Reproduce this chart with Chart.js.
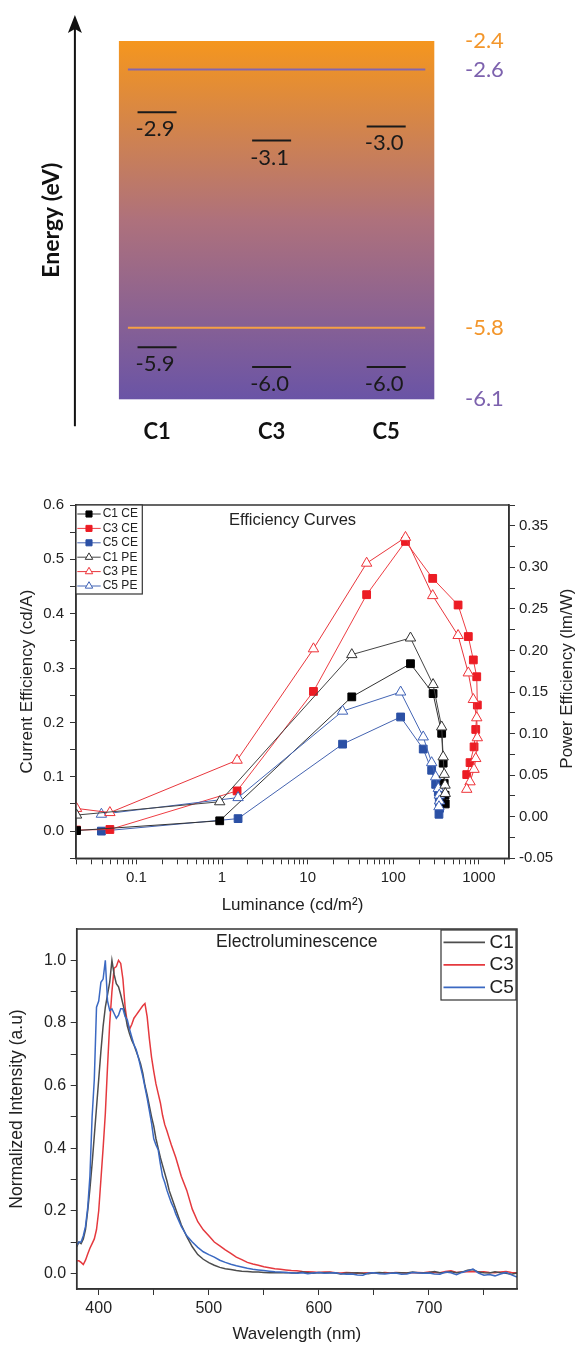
<!DOCTYPE html>
<html lang="es">
<head>
<meta charset="utf-8">
<title>Niveles de energía, eficiencia y electroluminiscencia</title>
<script src="https://cdn.jsdelivr.net/npm/chart.js@4.4.1/dist/chart.umd.min.js"></script>
<style>
  html, body { margin: 0; padding: 0; background: #fff; }
  .panel { position: absolute; left: 0; width: 577px; }
</style>
</head>
<body>
<div class="panel" style="top:0;height:450px"><canvas id="energyChart"></canvas></div>
<div class="panel" style="top:480px;height:440px"><canvas id="effChart"></canvas></div>
<div class="panel" style="top:910px;height:435px"><canvas id="elChart"></canvas></div>
<script>
// Niveles de energía (eV)
const compounds = ['C1', 'C3', 'C5'];
const lumoLevels = [-2.9, -3.1, -3.0];
const homoLevels = [-5.9, -6.0, -6.0];
const refLevels = [-2.4, -2.6, -5.8, -6.1];
const lineLevels = [-2.6, -5.8];

// Curvas de eficiencia: luminancia (cd/m2), CE (cd/A), PE (lm/W)
const c1Lum = [0.02, 0.94, 32.8, 159, 292, 368, 383, 394, 403, 405];
const c1CE  = [0.001, 0.019, 0.247, 0.308, 0.253, 0.180, 0.125, 0.088, 0.066, 0.050];
const c1PE  = [0.002, 0.018, 0.195, 0.215, 0.159, 0.108, 0.072, 0.051, 0.038, 0.028];

const c3Lum = [0.02, 0.049, 1.5, 11.7, 48.9, 139, 289, 572, 753, 862, 945, 960, 920, 879, 789, 722];
const c3CE  = [0.002, 0.003, 0.074, 0.257, 0.435, 0.533, 0.465, 0.416, 0.358, 0.315, 0.284, 0.232, 0.187, 0.155, 0.126, 0.104];
const c3PE  = [0.010, 0.005, 0.068, 0.202, 0.305, 0.336, 0.266, 0.218, 0.173, 0.141, 0.119, 0.095, 0.070, 0.057, 0.042, 0.033];

const c5Lum = [0.039, 1.54, 25.6, 122, 224, 281, 313, 336, 345, 347, 342];
const c5CE  = [0.000, 0.023, 0.160, 0.210, 0.151, 0.112, 0.086, 0.072, 0.057, 0.042, 0.031];
const c5PE  = [0.003, 0.023, 0.127, 0.150, 0.096, 0.065, 0.048, 0.034, 0.026, 0.019, 0.012];

const effXTicks = [0.02, 0.03, 0.04, 0.05, 0.06, 0.07, 0.08, 0.09, 0.1, 0.2, 0.3, 0.4, 0.5, 0.6, 0.7, 0.8, 0.9,
  1, 2, 3, 4, 5, 6, 7, 8, 9, 10, 20, 30, 40, 50, 60, 70, 80, 90, 100, 200, 300, 400, 500, 600, 700, 800, 900, 1000, 2000];
const effXLabels = [0.1, 1, 10, 100, 1000];
const ceTicks = [-0.05, 0, 0.05, 0.1, 0.15, 0.2, 0.25, 0.3, 0.35, 0.4, 0.45, 0.5, 0.55, 0.6];
const ceLabels = [0, 0.1, 0.2, 0.3, 0.4, 0.5, 0.6];
const peTicks = [-0.05, -0.025, 0, 0.025, 0.05, 0.075, 0.1, 0.125, 0.15, 0.175, 0.2, 0.225, 0.25, 0.275, 0.3, 0.325, 0.35, 0.375];
const peLabels = [-0.05, 0, 0.05, 0.1, 0.15, 0.2, 0.25, 0.3, 0.35];

// Electroluminiscencia: longitud de onda (nm) e intensidad normalizada
const elWave = [380, 382, 384, 386, 388, 390, 392, 394, 396, 398,
  400, 402, 404, 406, 408, 410, 412, 414, 416, 418,
  420, 422, 424, 426, 428, 430, 432, 434, 436, 438,
  440, 442, 444, 446, 448, 450, 452, 454, 456, 458,
  460, 462, 464, 466, 468, 470,
  475, 480, 485, 490, 495, 500, 505, 510, 515, 520, 525, 530, 535, 540, 545, 550, 555, 560,
  565, 570, 575, 580, 585, 590, 595, 600, 605, 610, 615, 620, 625, 630, 635, 640, 645, 650, 655, 660,
  665, 670, 675, 680, 685, 690, 695, 700, 705, 710, 715, 720, 725, 730, 735, 740, 745, 750, 755, 760,
  765, 770, 775, 780];
const elC1 = [0.085, 0.10, 0.095, 0.11, 0.14, 0.20, 0.27, 0.35, 0.44, 0.53,
  0.62, 0.71, 0.79, 0.85, 0.89, 0.93, 1.0, 0.955, 0.925, 0.915,
  0.89, 0.86, 0.83, 0.79, 0.765, 0.745, 0.73, 0.71, 0.69, 0.67,
  0.64, 0.60, 0.57, 0.535, 0.50, 0.47, 0.43, 0.40, 0.37, 0.345,
  0.32, 0.295, 0.265, 0.245, 0.225, 0.205,
  0.155, 0.117, 0.085, 0.06, 0.045, 0.034, 0.026, 0.019, 0.015, 0.012, 0.009, 0.007, 0.006, 0.004, 0.004, 0.003, 0.002, 0.002,
  0.002, 0.003, 0.001, 0.001, 0.004, 0.002, 0.000, 0.003, 0.002, 0.003,
  0.001, -0.002, 0.001, 0.001, 0.002, 0.000, -0.001, 0.002, 0.003, 0.001,
  0.000, 0.002, 0.002, 0.001, 0.004, 0.002, 0.001, 0.003, 0.006, 0.002,
  0.003, 0.005, 0.002, 0.004, 0.010, 0.012, 0.004, 0.002, 0.001, 0.005,
  0.002, 0.000, -0.003, 0.001];
const elC3 = [0.04, 0.04, 0.035, 0.028, 0.042, 0.062, 0.08, 0.095, 0.11, 0.14,
  0.20, 0.30, 0.40, 0.51, 0.66, 0.80, 0.90, 0.975, 0.98, 1.0,
  0.99, 0.94, 0.85, 0.80, 0.78, 0.795, 0.815, 0.825, 0.835, 0.845,
  0.855, 0.862, 0.82, 0.75, 0.69, 0.645, 0.605, 0.575, 0.545, 0.505,
  0.475, 0.455, 0.432, 0.41, 0.39, 0.37,
  0.31, 0.265, 0.205, 0.165, 0.139, 0.12, 0.10, 0.088, 0.075, 0.064, 0.052, 0.044, 0.035, 0.030, 0.026, 0.021, 0.018, 0.015,
  0.013, 0.011, 0.009, 0.008, 0.006, 0.005, 0.004, 0.003, 0.004, 0.004,
  0.002, 0.001, 0.003, 0.002, 0.000, 0.001, 0.002, 0.002, 0.001, 0.003,
  0.001, 0.003, 0.002, 0.001, 0.002, 0.003, 0.002, 0.004, 0.003, 0.002,
  0.006, 0.008, 0.003, 0.004, 0.005, 0.006, 0.004, 0.005, 0.003, 0.002,
  0.004, 0.006, 0.003, 0.002];
const elC5 = [0.09, 0.10, 0.10, 0.12, 0.15, 0.21, 0.31, 0.50, 0.62, 0.85,
  0.87, 0.93, 0.94, 1.0, 0.87, 0.84, 0.845, 0.83, 0.815, 0.825,
  0.845, 0.845, 0.82, 0.81, 0.78, 0.755, 0.73, 0.715, 0.69, 0.66,
  0.63, 0.595, 0.56, 0.52, 0.48, 0.43, 0.41, 0.395, 0.35, 0.31,
  0.29, 0.265, 0.245, 0.225, 0.21, 0.19,
  0.15, 0.12, 0.10, 0.083, 0.069, 0.06, 0.052, 0.042, 0.035, 0.029, 0.024, 0.02, 0.016, 0.013, 0.011, 0.009, 0.007, 0.005,
  0.004, 0.003, 0.002, 0.000, 0.002, -0.001, 0.001, 0.003, 0.000, 0.001,
  0.002, -0.001, -0.003, -0.002, -0.005, -0.006, 0.001, 0.002, -0.001, -0.002,
  0.000, 0.001, -0.003, -0.002, 0.003, 0.002, 0.000, 0.001, -0.002, -0.003,
  0.004, 0.002, -0.004, 0.003, 0.008, 0.014, 0.001, -0.006, -0.004, -0.008,
  -0.002, 0.003, -0.005, -0.012];
const elXTicks = [400, 450, 500, 550, 600, 650, 700, 750];
const elXLabels = [400, 500, 600, 700];
const elYTicks = [0, 0.1, 0.2, 0.3, 0.4, 0.5, 0.6, 0.7, 0.8, 0.9, 1.0];
const elYLabels = [0, 0.2, 0.4, 0.6, 0.8, 1.0];

Chart.defaults.font.family = '"Liberation Sans", Arial, sans-serif';
Chart.defaults.color = '#222';

// Escala de energía con tramos comprimidos (diagrama esquemático)
const energyBreaks = [-6.1, -6.0, -5.8, -3.1, -2.4];
const breakFractions = [0, 0.09, 0.2, 0.722, 1];

class EnergyScale extends Chart.LinearScale {
  toFraction(v) {
    let i = 0;
    while (i < energyBreaks.length - 2 && v > energyBreaks[i + 1]) i++;
    const t = (v - energyBreaks[i]) / (energyBreaks[i + 1] - energyBreaks[i]);
    return breakFractions[i] + t * (breakFractions[i + 1] - breakFractions[i]);
  }
  getPixelForValue(v) {
    return this.getPixelForDecimal(this.toFraction(v));
  }
}
EnergyScale.id = 'energy';
Chart.registry.addScales(EnergyScale);

const refColors = ['#F3962B', '#7D62AE', '#F3962B', '#7D62AE'];
const bandLineColors = ['#8466AE', '#F6A045'];

// Fondo degradado, líneas, etiquetas de nivel y flecha
const energyDecor = {
  id: 'energyDecor',
  beforeDatasetsDraw(chart) {
    const { ctx, chartArea: a, scales } = chart;
    const grad = ctx.createLinearGradient(0, a.top, 0, a.bottom);
    grad.addColorStop(0, '#F5961E');
    grad.addColorStop(0.5, '#AE717C');
    grad.addColorStop(1, '#6A54A6');
    ctx.save();
    ctx.fillStyle = grad;
    ctx.fillRect(a.left, a.top, a.right - a.left, a.bottom - a.top);
    ctx.lineWidth = 2;
    lineLevels.forEach((v, i) => {
      const y = scales.y.getPixelForValue(v);
      ctx.strokeStyle = bandLineColors[i];
      ctx.beginPath();
      ctx.moveTo(a.left + 9, y);
      ctx.lineTo(a.right - 9, y);
      ctx.stroke();
    });
    ctx.restore();
  },
  afterDatasetsDraw(chart) {
    const { ctx } = chart;
    ctx.save();
    ctx.font = '22px Lato';
    ctx.fillStyle = '#1a1a1a';
    ctx.textAlign = 'center';
    ctx.textBaseline = 'middle';
    [0, 1].forEach(d => {
      chart.getDatasetMeta(d).data.forEach((pt, i) => {
        ctx.fillText(chart.data.datasets[d].data[i].y.toFixed(1), pt.x - 2, pt.y + 17);
      });
    });
    ctx.restore();
  },
  afterDraw(chart) {
    const { ctx, chartArea: a } = chart;
    const x = a.left - 44;
    const tip = a.top - 26;
    ctx.save();
    ctx.strokeStyle = '#111';
    ctx.fillStyle = '#111';
    ctx.lineWidth = 2;
    ctx.beginPath();
    ctx.moveTo(x, a.bottom + 27);
    ctx.lineTo(x, tip + 12);
    ctx.stroke();
    ctx.beginPath();
    ctx.moveTo(x, tip);
    ctx.lineTo(x + 7, tip + 18);
    ctx.lineTo(x, tip + 14);
    ctx.lineTo(x - 7, tip + 18);
    ctx.closePath();
    ctx.fill();
    ctx.restore();
  }
};

const levelStyle = { pointStyle: 'line', pointRadius: 19.5, pointBorderWidth: 2, pointBorderColor: '#1a1a1a', showLine: false };

new Chart(document.getElementById('energyChart'), {
  type: 'scatter',
  data: {
    datasets: [
      { label: 'LUMO', data: compounds.map((c, i) => ({ x: i + 1, y: lumoLevels[i] })), ...levelStyle },
      { label: 'HOMO', data: compounds.map((c, i) => ({ x: i + 1, y: homoLevels[i] })), ...levelStyle }
    ]
  },
  options: {
    animation: false,
    responsive: true,
    maintainAspectRatio: false,
    events: [],
    layout: { padding: { top: 41, left: 0, right: 0, bottom: 0 } },
    plugins: { legend: { display: false }, tooltip: { enabled: false } },
    scales: {
      x: {
        type: 'linear', min: 0.667, max: 3.42,
        afterBuildTicks: s => { s.ticks = compounds.map((c, i) => ({ value: i + 1 })); },
        afterFit: s => { s.height = 50.7; },
        grid: { display: false }, border: { display: false },
        ticks: { autoSkip: false, maxRotation: 0, padding: 11, color: '#111',
          font: { family: 'Lato', size: 22, weight: 'bold' },
          callback: (v, i) => compounds[i] }
      },
      y: {
        type: 'energy', position: 'left', min: -6.1, max: -2.4,
        ticks: { display: false }, grid: { display: false }, border: { display: false },
        title: { display: true, text: 'Energy (eV)', color: '#111',
          font: { family: 'Lato', size: 23, weight: 'bold' }, padding: { top: 38, bottom: 0 } },
        afterFit: s => { s.width = 118.9; }
      },
      yR: {
        type: 'energy', position: 'right', min: -6.1, max: -2.4,
        afterBuildTicks: s => { s.ticks = refLevels.map(v => ({ value: v })); },
        grid: { display: false }, border: { display: false },
        ticks: { padding: 22.7, font: { family: 'Lato', size: 22 },
          color: ctx => refColors[refLevels.indexOf(ctx.tick.value)],
          callback: v => v.toFixed(1) },
        afterFit: s => { s.width = 142.7; }
      }
    }
  },
  plugins: [energyDecor]
});

// Marco, título interior, título derecho y leyenda en caja
const panelDecor = {
  id: 'panelDecor',
  afterDraw(chart, args, o) {
    const { ctx, chartArea: a } = chart;
    ctx.save();
    ctx.strokeStyle = '#333';
    ctx.lineWidth = 1.5;
    ctx.strokeRect(a.left, a.top, a.right - a.left, a.bottom - a.top);

    ctx.fillStyle = '#222';
    ctx.font = o.titleFont;
    ctx.textAlign = 'center';
    ctx.textBaseline = 'middle';
    ctx.fillText(o.title, (a.left + a.right) / 2, a.top + o.titleDy);

    if (o.rightTitle) {
      ctx.save();
      ctx.translate(o.rightTitleX, (a.top + a.bottom) / 2 - 3);
      ctx.rotate(-Math.PI / 2);
      ctx.font = '17px "Liberation Sans", Arial, sans-serif';
      ctx.fillText(o.rightTitle, 0, 0);
      ctx.restore();
    }

    const L = o.box;
    const x0 = L.alignRight ? a.right - L.w + L.dx : a.left + L.dx;
    const y0 = a.top + L.dy;
    ctx.fillStyle = '#fff';
    ctx.fillRect(x0, y0, L.w, L.h);
    ctx.strokeStyle = '#333';
    ctx.lineWidth = 1.2;
    ctx.strokeRect(x0, y0, L.w, L.h);
    ctx.font = L.font;
    ctx.textAlign = 'left';
    chart.data.datasets.forEach((ds, i) => {
      const y = y0 + L.first + i * L.row;
      ctx.strokeStyle = ds.borderColor;
      ctx.lineWidth = L.lineWidth;
      ctx.beginPath();
      ctx.moveTo(x0 + L.lineFrom, y);
      ctx.lineTo(x0 + L.lineTo, y);
      ctx.stroke();
      if (ds.pointRadius) {
        ctx.fillStyle = ds.pointBackgroundColor;
        ctx.strokeStyle = ds.pointBorderColor;
        ctx.lineWidth = 1;
        Chart.helpers.drawPoint(ctx, { pointStyle: ds.pointStyle, radius: L.marker, borderWidth: 1, rotation: 0 },
          x0 + (L.lineFrom + L.lineTo) / 2, y);
      }
      ctx.fillStyle = '#222';
      ctx.fillText(ds.label, x0 + L.textX, y);
    });
    ctx.restore();
  }
};

const axisGrid = { drawOnChartArea: false, tickLength: 6, tickColor: '#333' };
const axisBorder = { color: '#333', width: 1.5 };

function effSet(label, lum, vals, color, lineColor, isPE) {
  return {
    label: label,
    data: lum.map((x, i) => ({ x: x, y: vals[i] })),
    yAxisID: isPE ? 'y1' : 'y',
    showLine: true,
    borderColor: lineColor,
    borderWidth: 1,
    pointStyle: isPE ? 'triangle' : 'rect',
    pointRadius: isPE ? 6 : 5.5,
    pointBackgroundColor: isPE ? '#fff' : color,
    pointBorderColor: color,
    pointBorderWidth: 1,
    order: isPE ? 0 : 1
  };
}

new Chart(document.getElementById('effChart'), {
  type: 'scatter',
  data: {
    datasets: [
      effSet('C1 CE', c1Lum, c1CE, '#000', '#333', false),
      effSet('C3 CE', c3Lum, c3CE, '#EC1C24', '#EE3D43', false),
      effSet('C5 CE', c5Lum, c5CE, '#2B50A5', '#4463B0', false),
      effSet('C1 PE', c1Lum, c1PE, '#333', '#444', true),
      effSet('C3 PE', c3Lum, c3PE, '#EE3238', '#E8363C', true),
      effSet('C5 PE', c5Lum, c5PE, '#3F62B6', '#4365B5', true)
    ]
  },
  options: {
    animation: false,
    responsive: true,
    maintainAspectRatio: false,
    events: [],
    layout: { padding: { top: 25, left: 0, right: 0, bottom: 0 } },
    plugins: {
      legend: { display: false }, tooltip: { enabled: false },
      panelDecor: {
        title: 'Efficiency Curves', titleFont: '16.5px "Liberation Sans", Arial, sans-serif', titleDy: 15.7,
        rightTitle: 'Power Efficiency (lm/W)', rightTitleX: 567.5,
        box: { alignRight: false, dx: 0, dy: 0, w: 66.3, h: 89, first: 9, row: 14.4,
          lineFrom: 1.3, lineTo: 24.7, textX: 26.7, marker: 4.3, lineWidth: 1,
          font: '12px "Liberation Sans", Arial, sans-serif' }
      }
    },
    scales: {
      x: {
        type: 'logarithmic', min: 0.0197, max: 2250,
        afterBuildTicks: s => { s.ticks = effXTicks.map(v => ({ value: v })); },
        afterFit: s => { s.height = 61.7; },
        grid: axisGrid, border: axisBorder,
        ticks: { autoSkip: false, maxRotation: 0, padding: 5, font: { size: 15 },
          callback: v => effXLabels.includes(v) ? String(v) : '' },
        title: { display: true, text: 'Luminance (cd/m²)', font: { size: 17 }, padding: { top: 0, bottom: 4.8 } }
      },
      y: {
        type: 'linear', position: 'left', min: -0.05, max: 0.6,
        afterBuildTicks: s => { s.ticks = ceTicks.map(v => ({ value: v })); },
        afterFit: s => { s.width = 76; },
        grid: axisGrid, border: axisBorder,
        ticks: { autoSkip: false, padding: 6, font: { size: 15 },
          callback: v => ceLabels.includes(v) ? v.toFixed(1) : '' },
        title: { display: true, text: 'Current Efficiency (cd/A)', font: { size: 17 }, padding: { top: 17.4, bottom: 0 } }
      },
      y1: {
        type: 'linear', position: 'right', min: -0.05, max: 0.375,
        afterBuildTicks: s => { s.ticks = peTicks.map(v => ({ value: v })); },
        afterFit: s => { s.width = 68; },
        grid: axisGrid, border: axisBorder,
        ticks: { autoSkip: false, padding: 4, font: { size: 15 },
          callback: v => peLabels.includes(v) ? v.toFixed(2) : '' }
      }
    }
  },
  plugins: [panelDecor]
});

new Chart(document.getElementById('elChart'), {
  type: 'scatter',
  data: {
    datasets: [
      { label: 'C1', data: elWave.map((x, i) => ({ x: x, y: elC1[i] })), borderColor: '#4D4D4D', order: 1 },
      { label: 'C3', data: elWave.map((x, i) => ({ x: x, y: elC3[i] })), borderColor: '#E5393E', order: 2 },
      { label: 'C5', data: elWave.map((x, i) => ({ x: x, y: elC5[i] })), borderColor: '#3B69C2', order: 0 }
    ].map(d => Object.assign(d, { showLine: true, borderWidth: 1.5, pointRadius: 0, tension: 0 }))
  },
  options: {
    animation: false,
    responsive: true,
    maintainAspectRatio: false,
    events: [],
    layout: { padding: { top: 19, right: 60, left: 0, bottom: 0 } },
    plugins: {
      legend: { display: false }, tooltip: { enabled: false },
      panelDecor: {
        title: 'Electroluminescence', titleFont: '17.5px "Liberation Sans", Arial, sans-serif', titleDy: 13.3,
        box: { alignRight: true, dx: -1, dy: 1, w: 75, h: 70, first: 12.3, row: 22.5,
          lineFrom: 2.5, lineTo: 44, textX: 48.5, marker: 0, lineWidth: 1.8,
          font: '19px "Liberation Sans", Arial, sans-serif' }
      }
    },
    scales: {
      x: {
        type: 'linear', min: 380, max: 780,
        afterBuildTicks: s => { s.ticks = elXTicks.map(v => ({ value: v })); },
        afterFit: s => { s.height = 56; },
        grid: axisGrid, border: axisBorder,
        ticks: { autoSkip: false, maxRotation: 0, padding: 4, font: { size: 16 },
          callback: v => elXLabels.includes(v) ? String(v) : '' },
        title: { display: true, text: 'Wavelength (nm)', font: { size: 17 }, padding: { top: 0, bottom: 0 } }
      },
      y: {
        type: 'linear', position: 'left', min: -0.05, max: 1.1,
        afterBuildTicks: s => { s.ticks = elYTicks.map(v => ({ value: v })); },
        afterFit: s => { s.width = 76.7; },
        grid: axisGrid, border: axisBorder,
        ticks: { autoSkip: false, padding: 4.5, font: { size: 16 },
          callback: v => elYLabels.includes(v) ? v.toFixed(1) : '' },
        title: { display: true, text: 'Normalized Intensity (a.u)', font: { size: 17.5 }, padding: { top: 6.3, bottom: 0 } }
      }
    }
  },
  plugins: [panelDecor]
});
</script>
</body>
</html>
